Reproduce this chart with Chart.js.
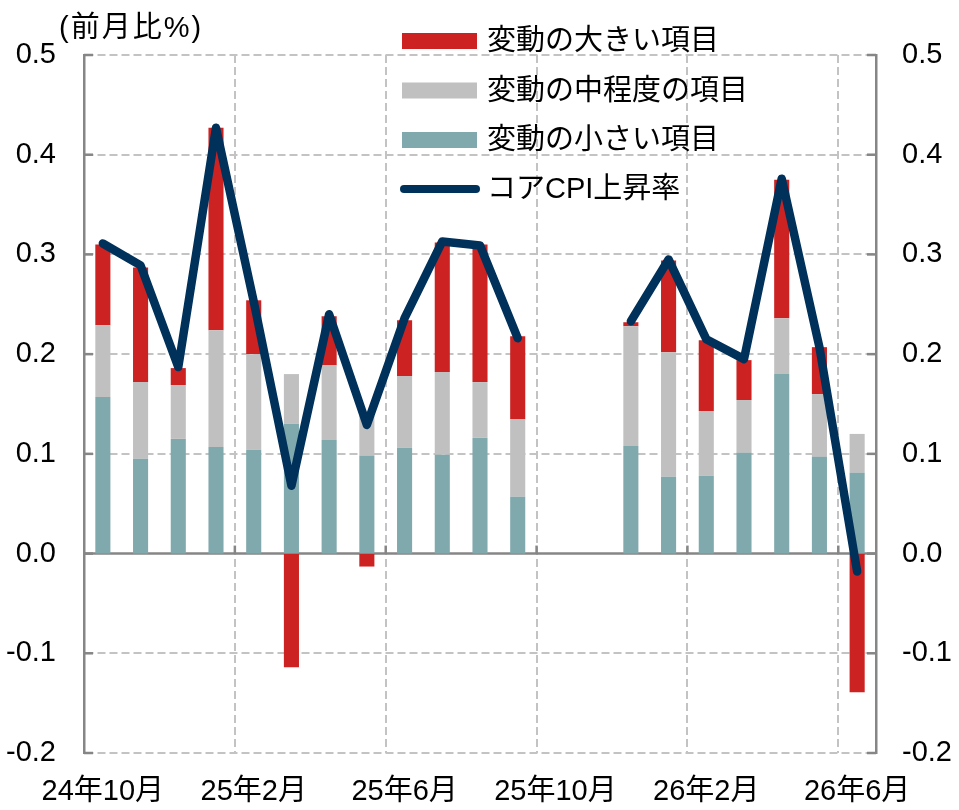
<!DOCTYPE html>
<html><head><meta charset="utf-8">
<script src="https://cdn.jsdelivr.net/npm/chart.js@4.4.1/dist/chart.umd.min.js"></script>
<style>html,body{margin:0;padding:0;background:#fff;} canvas{display:block;}</style>
</head><body>
<canvas id="c" width="959" height="810"></canvas>
<script>
// ---- data ----
const categories = ['24年10月','24年11月','24年12月','25年1月','25年2月','25年3月','25年4月','25年5月','25年6月','25年7月','25年8月','25年9月','25年10月','25年11月','25年12月','26年1月','26年2月','26年3月','26年4月','26年5月','26年6月'];
const smallVals = [0.157,0.095,0.115,0.107,0.104,0.130,0.114,0.098,0.106,0.099,0.116,0.057,null,null,0.108,0.077,0.078,0.101,0.180,0.097,0.081];
const midVals   = [0.072,0.077,0.054,0.117,0.096,0.050,0.075,0.040,0.072,0.083,0.056,0.078,null,null,0.120,0.125,0.065,0.053,0.056,0.063,0.039];
const largeVals = [0.081,0.115,0.017,0.203,0.054,-0.114,0.049,-0.013,0.056,0.130,0.138,0.083,null,null,0.004,0.092,0.071,0.040,0.139,0.047,-0.139];
const coreCPI   = [0.311,0.289,0.187,0.427,0.253,0.068,0.240,0.129,0.236,0.313,0.309,0.216,null,null,0.233,0.295,0.215,0.195,0.376,0.207,-0.018];
const seriesNames = ['変動の小さい項目','変動の中程度の項目','変動の大きい項目','コアCPI上昇率'];
const yTickValues = [-0.2,-0.1,0.0,0.1,0.2,0.3,0.4,0.5];
const unitLabel = '(前月比%)';

const FONT = '"Liberation Sans", "Noto Sans CJK JP", sans-serif';
const COL_SMALL = '#80A9AD', COL_MID = '#C0C0C0', COL_LARGE = '#CC2222', COL_LINE = '#00315A';
const AXIS_COL = '#868686', GRID_COL = '#C3C3C3';
const fmt = v => (Math.abs(v) < 1e-9 ? 0 : Number(v)).toFixed(1);

const decorPlugin = {
  id: 'decor',
  beforeDatasetsDraw(chart) {
    const {ctx, chartArea: a, scales} = chart;
    const y = scales.y;
    const y0 = y.getPixelForValue(0);
    ctx.save();
    ctx.strokeStyle = AXIS_COL;
    ctx.lineWidth = 2.5;
    ctx.beginPath(); ctx.moveTo(a.left, y0); ctx.lineTo(a.right, y0); ctx.stroke();
    yTickValues.forEach(v => {
      const py = y.getPixelForValue(v);
      ctx.beginPath(); ctx.moveTo(a.left, py); ctx.lineTo(a.left + 9, py); ctx.stroke();
      ctx.beginPath(); ctx.moveTo(a.right, py); ctx.lineTo(a.right - 9, py); ctx.stroke();
    });
    const w = (a.right - a.left) / categories.length;
    for (let i = 4; i < categories.length; i += 4) {
      const px = a.left + i * w;
      ctx.beginPath(); ctx.moveTo(px, y0); ctx.lineTo(px, y0 - 8); ctx.stroke();
    }
    ctx.restore();
  },
  afterDraw(chart) {
    const {ctx} = chart;
    ctx.save();
    ctx.fillStyle = '#000';
    ctx.font = '29px ' + FONT;
    ctx.textBaseline = 'middle';
    ctx.textAlign = 'left';
    ctx.letterSpacing = '2px';
    ctx.fillText(unitLabel, 59, 29);
    ctx.letterSpacing = '0px';
    const ds = chart.data.datasets;
    const order = [2, 1, 0, 3];
    const rows = [41, 90.5, 140, 189];
    order.forEach((di, r) => {
      const d = ds[di];
      const cy = rows[r];
      if (d.type === 'line') {
        ctx.strokeStyle = d.borderColor;
        ctx.lineWidth = 8;
        ctx.lineCap = 'round';
        ctx.beginPath(); ctx.moveTo(404, cy); ctx.lineTo(476, cy); ctx.stroke();
      } else {
        ctx.fillStyle = d.backgroundColor;
        ctx.fillRect(402, cy - 8, 75, 16);
      }
      ctx.fillStyle = '#000';
      ctx.fillText(d.label, 487, cy + 1);
    });
    ctx.restore();
  }
};

new Chart(document.getElementById('c'), {
  data: {
    labels: categories,
    datasets: [
      {type: 'bar', label: seriesNames[0], data: smallVals, backgroundColor: COL_SMALL, stack: 's', order: 1, barPercentage: 0.4, categoryPercentage: 1},
      {type: 'bar', label: seriesNames[1], data: midVals, backgroundColor: COL_MID, stack: 's', order: 1, barPercentage: 0.4, categoryPercentage: 1},
      {type: 'bar', label: seriesNames[2], data: largeVals, backgroundColor: COL_LARGE, stack: 's', order: 1, barPercentage: 0.4, categoryPercentage: 1},
      {type: 'line', label: seriesNames[3], data: coreCPI, borderColor: COL_LINE, backgroundColor: COL_LINE, borderWidth: 8.5, pointRadius: 0, tension: 0, spanGaps: false, borderJoinStyle: 'round', borderCapStyle: 'round', order: 0}
    ]
  },
  options: {
    responsive: false,
    devicePixelRatio: 1,
    animation: false,
    layout: {padding: {top: 55, left: 0, right: 0, bottom: 0}},
    plugins: {legend: {display: false}, tooltip: {enabled: false}, title: {display: false}},
    scales: {
      x: {
        stacked: true,
        offset: true,
        grid: {
          offset: true, drawTicks: false, lineWidth: 2,
          color: c => (c.index > 0 && c.index % 4 === 0) ? GRID_COL : 'rgba(0,0,0,0)'
        },
        border: {display: false, dash: [8, 4]},
        ticks: {
          autoSkip: false, maxRotation: 0, minRotation: 0, padding: 22, color: '#000',
          font: {size: 29, family: FONT},
          callback: function(v, i) { return i % 4 === 0 ? this.getLabelForValue(v) : ''; }
        },
        afterFit: s => { s.height = 57; }
      },
      y: {
        stacked: true,
        position: 'left',
        min: -0.2, max: 0.5,
        grid: {
          drawTicks: false, lineWidth: 2,
          color: c => (Math.abs(c.tick.value) < 1e-9) ? 'rgba(0,0,0,0)' : GRID_COL
        },
        border: {display: true, color: AXIS_COL, width: 2.5, dash: [8, 4]},
        ticks: {
          stepSize: 0.1, padding: 28, color: '#000',
          font: {size: 29, family: FONT},
          callback: fmt
        },
        afterFit: s => { s.width = 84; }
      },
      y2: {
        position: 'right',
        min: -0.2, max: 0.5,
        grid: {drawOnChartArea: false, drawTicks: false},
        border: {display: true, color: AXIS_COL, width: 2.5},
        ticks: {
          stepSize: 0.1, padding: 26, color: '#000',
          font: {size: 29, family: FONT},
          callback: fmt
        },
        afterFit: s => { s.width = 83; }
      }
    }
  },
  plugins: [decorPlugin]
});
</script>
</body></html>
